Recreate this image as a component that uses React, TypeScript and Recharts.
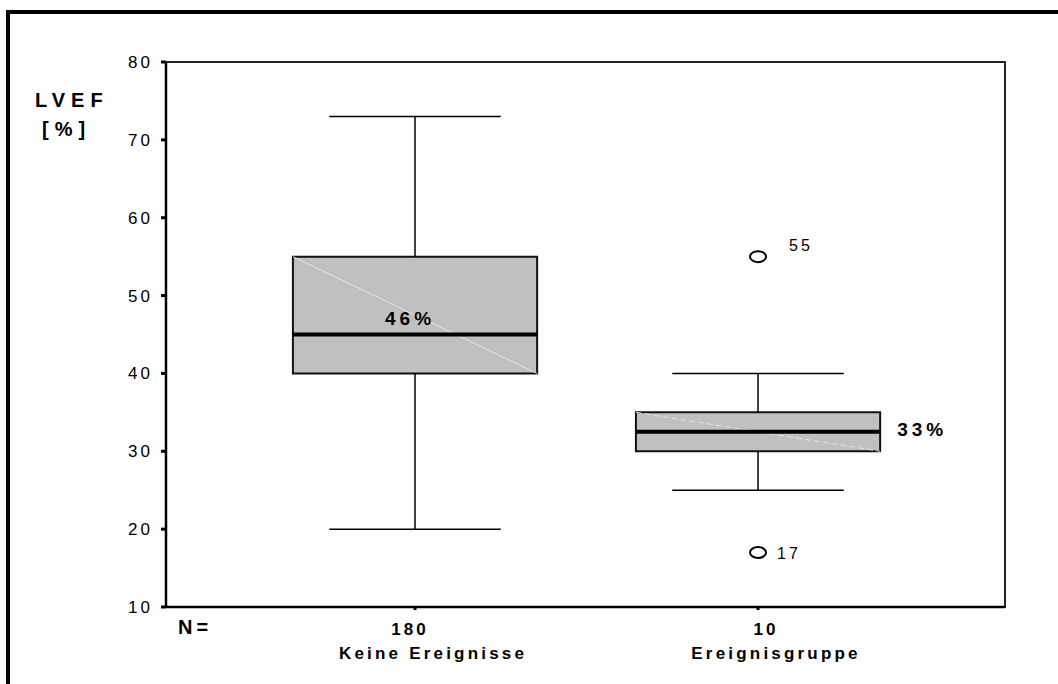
import React from 'react';
import {
  ComposedChart,
  XAxis,
  YAxis,
  ReferenceArea,
  ReferenceLine,
  Scatter,
  LabelList,
} from 'recharts';

// Box plot summary per group (LVEF in %)
const groups = ['Keine Ereignisse', 'Ereignisgruppe'];
const counts = [180, 10];
const lowerWhisker = [20, 25];
const q1 = [40, 30];
const median = [45, 32.5];
const q3 = [55, 35];
const upperWhisker = [73, 40];
const meanLabels = ['46%', '33%'];

// Outliers of the event group, labelled with the case number
const outliers = [
  { x: 2, y: 55, label: '55' },
  { x: 2, y: 17, label: '17' },
];

const yTicks = [10, 20, 30, 40, 50, 60, 70, 80];

const FONT = '"Liberation Sans", Arial, sans-serif';
const BOX_HALF = 0.356;
const CAP_HALF = 0.25;
const X_DOMAIN: [number, number] = [0.274, 2.72];
const COUNT_SHIFT = [-5, 8];

const GroupTick = ({ x, y, payload }: any) => {
  const i = Math.round(payload.value) - 1;
  return (
    <g transform={`translate(${x},${y})`}>
      <text
        textAnchor="middle"
        dy={23}
        dx={COUNT_SHIFT[i]}
        fontFamily={FONT}
        fontWeight="bold"
        fontSize={17}
        letterSpacing={3}
        fill="#000"
      >
        {counts[i]}
      </text>
      <text
        textAnchor="middle"
        dy={47}
        dx={18}
        fontFamily={FONT}
        fontWeight="bold"
        fontSize={17}
        letterSpacing={3.2}
        fill="#000"
      >
        {groups[i]}
      </text>
    </g>
  );
};

const Outlier = ({ cx, cy }: any) => (
  <ellipse cx={cx} cy={cy} rx={8} ry={5.5} fill="#fff" stroke="#000" strokeWidth={2} />
);

const OutlierLabel = ({ x, y, width, height, value, index }: any) => {
  const cx = x + width / 2;
  const cy = y + height / 2;
  const dx = index === 0 ? 31 : 19;
  const dy = index === 0 ? -12 : 0;
  return (
    <text
      x={cx + dx}
      y={cy + dy}
      dy={6}
      fontFamily={FONT}
      fontSize={16}
      letterSpacing={3}
      fill="#000"
    >
      {value}
    </text>
  );
};

export default function App() {
  return (
    <div
      style={{
        position: 'absolute',
        left: 0,
        top: 0,
        width: 1058,
        height: 684,
        background: '#fff',
        overflow: 'hidden',
      }}
    >
      <div
        style={{
          position: 'absolute',
          left: 6,
          top: 10,
          width: 1100,
          height: 700,
          borderLeft: '4px solid #000',
          borderTop: '4px solid #000',
        }}
      />
      <div
        style={{
          position: 'absolute',
          left: 35,
          top: 86,
          fontFamily: FONT,
          fontWeight: 'bold',
          fontSize: 20,
          letterSpacing: 6,
          lineHeight: '29px',
        }}
      >
        LVEF
        <br />
        <span style={{ marginLeft: 7 }}>[%]</span>
      </div>
      <div
        style={{
          position: 'absolute',
          left: 178,
          top: 615,
          fontFamily: FONT,
          fontWeight: 'bold',
          fontSize: 20,
          letterSpacing: 4,
          lineHeight: '24px',
        }}
      >
        N=
      </div>
      <ComposedChart
        width={1058}
        height={684}
        margin={{ top: 62, right: 53, bottom: 17, left: 100 }}
        style={{ position: 'absolute', left: 0, top: 0 }}
      >
        <XAxis
          type="number"
          dataKey="x"
          domain={X_DOMAIN}
          ticks={[1, 2]}
          allowDataOverflow
          height={60}
          axisLine={{ stroke: '#000', strokeWidth: 2.5 }}
          tickLine={{ stroke: '#000', strokeWidth: 3 }}
          tickSize={3}
          tick={<GroupTick />}
        />
        <YAxis
          type="number"
          dataKey="y"
          domain={[10, 80]}
          ticks={yTicks}
          width={66}
          allowDataOverflow
          axisLine={{ stroke: '#000', strokeWidth: 2.5 }}
          tickLine={{ stroke: '#000', strokeWidth: 3 }}
          tickSize={5}
          tickMargin={8}
          tick={{ fontFamily: FONT, fontSize: 17, fill: '#000', letterSpacing: 3 }}
        />
        {/* plot frame */}
        <ReferenceArea
          x1={X_DOMAIN[0]}
          x2={X_DOMAIN[1]}
          y1={10}
          y2={80}
          fill="none"
          fillOpacity={0}
          stroke="#222"
          strokeWidth={2}
        />
        {groups.map((g, i) => {
          const cx = i + 1;
          return (
            <React.Fragment key={g}>
              {/* whiskers */}
              <ReferenceLine
                segment={[{ x: cx, y: lowerWhisker[i] }, { x: cx, y: q1[i] }]}
                stroke="#000"
                strokeWidth={1.5}
              />
              <ReferenceLine
                segment={[{ x: cx, y: q3[i] }, { x: cx, y: upperWhisker[i] }]}
                stroke="#000"
                strokeWidth={1.5}
              />
              <ReferenceLine
                segment={[
                  { x: cx - CAP_HALF, y: lowerWhisker[i] },
                  { x: cx + CAP_HALF, y: lowerWhisker[i] },
                ]}
                stroke="#000"
                strokeWidth={1.5}
              />
              <ReferenceLine
                segment={[
                  { x: cx - CAP_HALF, y: upperWhisker[i] },
                  { x: cx + CAP_HALF, y: upperWhisker[i] },
                ]}
                stroke="#000"
                strokeWidth={1.5}
              />
              {/* box */}
              <ReferenceArea
                x1={cx - BOX_HALF}
                x2={cx + BOX_HALF}
                y1={q1[i]}
                y2={q3[i]}
                fill="#c0c0c0"
                fillOpacity={1}
                stroke="#111"
                strokeWidth={2}
              />
              <ReferenceLine
                segment={[
                  { x: cx - BOX_HALF, y: q3[i] },
                  { x: cx + BOX_HALF, y: q1[i] },
                ]}
                stroke="#e4e4e4"
                strokeWidth={1}
                strokeDasharray={i === 1 ? '6 3' : undefined}
              />
              {/* median */}
              <ReferenceLine
                segment={[
                  { x: cx - BOX_HALF, y: median[i] },
                  { x: cx + BOX_HALF, y: median[i] },
                ]}
                stroke="#000"
                strokeWidth={4}
                label={{
                  value: meanLabels[i],
                  position: i === 0 ? 'top' : 'right',
                  offset: i === 0 ? 10 : 17,
                  dx: i === 0 ? -5 : 0,
                  dy: i === 0 ? 0 : -3,
                  fontFamily: FONT,
                  fontWeight: 'bold',
                  fontSize: 19,
                  letterSpacing: 4,
                  fill: '#000',
                }}
              />
            </React.Fragment>
          );
        })}
        <Scatter data={outliers} shape={<Outlier />} isAnimationActive={false}>
          <LabelList dataKey="label" content={<OutlierLabel />} />
        </Scatter>
      </ComposedChart>
    </div>
  );
}
